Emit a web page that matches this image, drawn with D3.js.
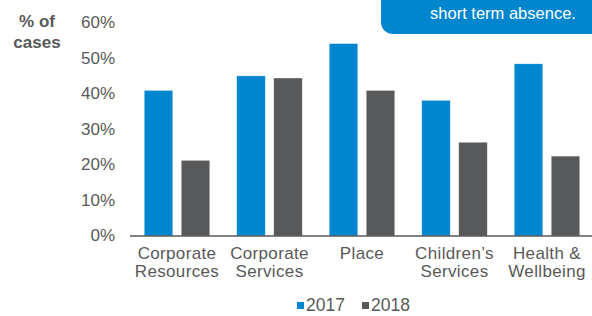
<!DOCTYPE html>
<html>
<head>
<meta charset="UTF-8"/>
<title>Short term absence</title>
<script src="https://d3js.org/d3.v7.min.js"></script>
<style>
body { margin: 0; background: #fff; }
svg { display: block; font-family: 'Liberation Sans', Arial, sans-serif; }
.tick text { font-size: 17px; fill: #595959; }
.domain { display: none; }
.tick line { display: none; }
.cat { font-size: 17px; fill: #595959; letter-spacing: 0.35px; }
.ylabel { font-size: 17px; font-weight: bold; fill: #595959; }
.legend text { font-size: 17.5px; fill: #595959; }
.note { font-size: 16.5px; fill: #fff; }
</style>
</head>
<body>
<svg width="592" height="316"></svg>
<script>
// data
const categories = ['Corporate Resources', 'Corporate Services', 'Place', "Children's Services", 'Health & Wellbeing'];
const catLines = [['Corporate', 'Resources'], ['Corporate', 'Services'], ['Place'], ['Children\u2019s', 'Services'], ['Health &', 'Wellbeing']];
const series = ['2017', '2018'];
const values2017 = [0.41, 0.451, 0.542, 0.382, 0.485];
const values2018 = [0.213, 0.445, 0.41, 0.264, 0.225];
const yTicks = [0, 0.1, 0.2, 0.3, 0.4, 0.5, 0.6];
const colors = ['#0085cf', '#58595b'];

const svg = d3.select('svg');

const x0 = d3.scaleBand()
  .domain(categories)
  .range([130.75, 593.25])
  .padding(0);

const x1 = d3.scaleBand()
  .domain(series)
  .range([0, x0.bandwidth()])
  .paddingInner(0.23)
  .paddingOuter(0.365);

const y = d3.scaleLinear()
  .domain([0, 0.6])
  .range([236, 23]);

const color = d3.scaleOrdinal().domain(series).range(colors);

// y axis labels
svg.append('g')
  .attr('transform', 'translate(123,0)')
  .call(d3.axisLeft(y).tickValues(yTicks).tickFormat(d3.format('.0%')).tickSize(0).tickPadding(8))
  .selectAll('text').attr('dy', '0.28em');

svg.append('text')
  .attr('class', 'ylabel')
  .attr('x', 37).attr('y', 27)
  .attr('text-anchor', 'middle')
  .text('% of');
svg.append('text')
  .attr('class', 'ylabel')
  .attr('x', 37).attr('y', 48)
  .attr('text-anchor', 'middle')
  .text('cases');

// bars
const rows = categories.map((c, i) => ({ cat: c, vals: [values2017[i], values2018[i]] }));

const groups = svg.selectAll('g.grp')
  .data(rows)
  .enter().append('g')
  .attr('class', 'grp')
  .attr('transform', d => `translate(${x0(d.cat)},0)`);

groups.selectAll('rect')
  .data(d => d.vals.map((v, j) => ({ key: series[j], v: v })))
  .enter().append('rect')
  .attr('x', d => x1(d.key))
  .attr('y', d => y(d.v))
  .attr('width', x1.bandwidth())
  .attr('height', d => y(0) - y(d.v))
  .attr('fill', d => color(d.key))
  .attr('stroke', 'rgba(255,255,255,0.5)')
  .attr('stroke-width', 0.6);

// baseline
svg.append('line')
  .attr('x1', 130).attr('x2', 592)
  .attr('y1', y(0)).attr('y2', y(0))
  .attr('stroke', '#595959')
  .attr('stroke-width', 1.5);

// category labels
categories.forEach((c, i) => {
  const t = svg.append('text')
    .attr('class', 'cat')
    .attr('text-anchor', 'middle')
    .attr('x', x0(c) + x0.bandwidth() / 2)
    .attr('y', 259);
  catLines[i].forEach((line, k) => {
    t.append('tspan')
      .attr('x', x0(c) + x0.bandwidth() / 2)
      .attr('dy', k === 0 ? 0 : 17.5)
      .text(line);
  });
});

// legend
const legend = svg.append('g').attr('class', 'legend');
const legX = [297, 362];
series.forEach((s, i) => {
  legend.append('rect')
    .attr('x', legX[i]).attr('y', 302)
    .attr('width', 7).attr('height', 7)
    .attr('fill', color(s));
  legend.append('text')
    .attr('x', legX[i] + 9).attr('y', 311)
    .text(s);
});

// callout box in the corner
svg.append('rect')
  .attr('x', 381).attr('y', -30)
  .attr('width', 240).attr('height', 64)
  .attr('rx', 12)
  .attr('fill', '#0085cf');
svg.append('text')
  .attr('class', 'note')
  .attr('x', 503).attr('y', -0.5)
  .attr('text-anchor', 'middle')
  .text('of initiatives focused on reducing');
svg.append('text')
  .attr('class', 'note')
  .attr('x', 503).attr('y', 19)
  .attr('text-anchor', 'middle')
  .text('short term absence.');
</script>
</body>
</html>
